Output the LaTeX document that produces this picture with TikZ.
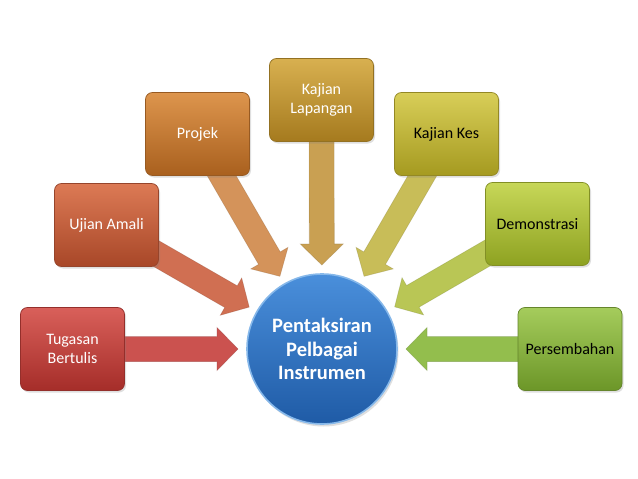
\documentclass[tikz,border=0pt]{standalone}
\usepackage{fontspec}
\setmainfont{Carlito}
\usetikzlibrary{calc,shadows}
\pgfdeclarelayer{bg}
\pgfsetlayers{bg,main}
\definecolor{bA}{HTML}{C53E39}\definecolor{bAt}{HTML}{D9605A}\definecolor{bAb}{HTML}{A52D29}
\definecolor{bB}{HTML}{C85C3A}\definecolor{bBt}{HTML}{DC7A55}\definecolor{bBb}{HTML}{A84728}
\definecolor{bC}{HTML}{C9782E}\definecolor{bCt}{HTML}{DD954D}\definecolor{bCb}{HTML}{A9601E}
\definecolor{bD}{HTML}{C4962E}\definecolor{bDt}{HTML}{D8B050}\definecolor{bDb}{HTML}{A57A1E}
\definecolor{bE}{HTML}{C4B632}\definecolor{bEt}{HTML}{D8CE58}\definecolor{bEb}{HTML}{A59A20}
\definecolor{bF}{HTML}{ADBF32}\definecolor{bFt}{HTML}{C7D758}\definecolor{bFb}{HTML}{8EA221}
\definecolor{bG}{HTML}{86B23A}\definecolor{bGt}{HTML}{A5CC5C}\definecolor{bGb}{HTML}{6C9628}
\definecolor{aA}{HTML}{CB524F}
\definecolor{aB}{HTML}{D06F52}
\definecolor{aC}{HTML}{D4935A}
\definecolor{aD}{HTML}{C9A052}
\definecolor{aE}{HTML}{C8BD58}
\definecolor{aF}{HTML}{B9C655}
\definecolor{aG}{HTML}{93BE4D}
\definecolor{cT}{HTML}{4A8FDB}\definecolor{cB}{HTML}{1F5BA6}\definecolor{cR}{HTML}{86B8EA}
\tikzset{
  stepbox/.style n args={3}{draw=#1!75!black, line width=.7pt, rounded corners=7pt,
    top color=#2, bottom color=#3, minimum width=104pt, minimum height=83pt,
    align=center, font=\fontsize{16}{19.5}\selectfont, inner sep=2pt,
    drop shadow={opacity=.25, shadow xshift=1.5pt, shadow yshift=-2pt}},
  whitetext/.style={text=white},
  blacktext/.style={text=black},
  hub/.style={circle, minimum size=150pt, inner sep=0pt, top color=cT, bottom color=cB,
    draw=cR, line width=1.6pt, align=center, text=white,
    font=\bfseries\fontsize{20.5}{23.5}\selectfont,
    drop shadow={opacity=.25, shadow xshift=1.5pt, shadow yshift=-2.5pt}},
}
\newcommand\blockarrow[3]{%
  \coordinate (tip#1) at ($(#2)!84pt!(#1)$);
  \coordinate (hb#1) at ($(#2)!105pt!(#1)$);
  \fill[#3, draw=#3!70!black, draw opacity=.35, line width=.6pt, line join=miter]
    ($(#1)!12.5pt!90:(#2)$) -- ($(hb#1)!12.5pt!90:(#2)$) -- ($(hb#1)!21.5pt!90:(#2)$)
    -- (tip#1) -- ($(hb#1)!21.5pt!-90:(#2)$) -- ($(hb#1)!12.5pt!-90:(#2)$)
    -- ($(#1)!12.5pt!-90:(#2)$) -- cycle;}
\begin{document}
\begin{tikzpicture}[x=1pt,y=-1pt]
\useasboundingbox (0,0) rectangle (638,479);
\node[hub] (c) at (322,349) {Pentaksiran\\Pelbagai\\Instrumen};
\node[stepbox={bA}{bAt}{bAb}, whitetext] (t1) at (72.5,349) {Tugasan\\Bertulis};
\node[stepbox={bB}{bBt}{bBb}, whitetext] (t2) at (106.5,225) {Ujian Amali};
\node[stepbox={bC}{bCt}{bCb}, whitetext] (t3) at (197.5,134) {Projek};
\node[stepbox={bD}{bDt}{bDb}, whitetext] (t4) at (321.5,100) {Kajian\\Lapangan};
\node[stepbox={bE}{bEt}{bEb}, blacktext] (t5) at (446.5,134) {Kajian Kes};
\node[stepbox={bF}{bFt}{bFb}, blacktext] (t6) at (537.5,224) {Demonstrasi};
\node[stepbox={bG}{bGt}{bGb}, blacktext] (t7) at (570,349) {Persembahan};
\begin{pgfonlayer}{bg}
\fill[white] (0,0) rectangle (638,479);
\blockarrow{t1}{c}{aA}
\blockarrow{t2}{c}{aB}
\blockarrow{t3}{c}{aC}
\blockarrow{t4}{c}{aD}
\blockarrow{t5}{c}{aE}
\blockarrow{t6}{c}{aF}
\blockarrow{t7}{c}{aG}
\end{pgfonlayer}
\end{tikzpicture}
\end{document}
